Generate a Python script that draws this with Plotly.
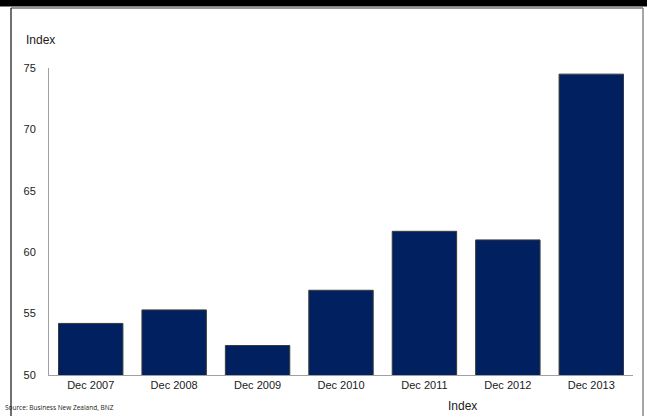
import plotly.graph_objects as go

categories = ["Dec 2007", "Dec 2008", "Dec 2009", "Dec 2010", "Dec 2011", "Dec 2012", "Dec 2013"]
values = [54.2, 55.3, 52.4, 56.9, 61.7, 61.0, 74.5]
y_ticks = [50, 55, 60, 65, 70, 75]

W, H = 647, 416
L, R, T, B = 49, 14, 68, 41
PW, PH = W - L - R, H - T - B

def px(x):
    return (x - L) / PW

def py(y):
    return (H - B - y) / PH

fig = go.Figure()
fig.add_trace(go.Bar(
    x=categories, y=values,
    marker=dict(color="#012060", line=dict(color="#3a3a3a", width=1)),
    showlegend=False,
))

font = "Liberation Sans, Arial, sans-serif"
fig.update_layout(
    width=W, height=H,
    margin=dict(l=L, r=R, t=T, b=B),
    paper_bgcolor="white", plot_bgcolor="white",
    bargap=0.228,
    font=dict(family=font, size=11, color="#1a1a1a"),
    xaxis=dict(showgrid=False, showline=True, linecolor="#a0a0a0", linewidth=1,
               ticks="", tickfont=dict(size=11, color="#1a1a1a")),
    yaxis=dict(range=[50, 75], tickvals=y_ticks, showgrid=False, zeroline=False,
               showline=True, linecolor="#a0a0a0", linewidth=1,
               ticks="", ticklabelstandoff=10, tickfont=dict(size=11, color="#1a1a1a")),
    shapes=[
        dict(type="rect", xref="paper", yref="paper", x0=px(0), x1=px(W),
             y0=py(6.5), y1=py(0), fillcolor="black", line=dict(width=0), layer="above"),
        dict(type="line", xref="paper", yref="paper", x0=px(11), x1=px(11),
             y0=py(8), y1=py(H), line=dict(color="#111", width=1.2)),
        dict(type="line", xref="paper", yref="paper", x0=px(11), x1=px(643),
             y0=py(8), y1=py(8), line=dict(color="#333", width=1.2)),
        dict(type="line", xref="paper", yref="paper", x0=px(643), x1=px(643),
             y0=py(8), y1=py(H), line=dict(color="#888", width=1.5)),
    ],
    annotations=[
        dict(text="Index", xref="paper", yref="paper", x=px(24), y=py(40),
             xanchor="left", yanchor="middle", showarrow=False,
             font=dict(size=12, color="#1a1a1a", family=font)),
        dict(text="Index", xref="paper", yref="paper", x=px(463), y=py(406),
             xanchor="center", yanchor="middle", showarrow=False,
             font=dict(size=12, color="#1a1a1a", family=font)),
        dict(text="Source: Business New Zealand, BNZ", xref="paper", yref="paper",
             x=px(3), y=py(407), xanchor="left", yanchor="middle", showarrow=False,
             font=dict(size=6.5, color="#1a1a1a", family="Open Sans, sans-serif")),
    ],
)

fig.write_html(
    "out.html",
    config={"displayModeBar": False},
    post_script="document.body.style.margin='0';document.body.style.padding='0';document.body.style.overflow='hidden';",
)
